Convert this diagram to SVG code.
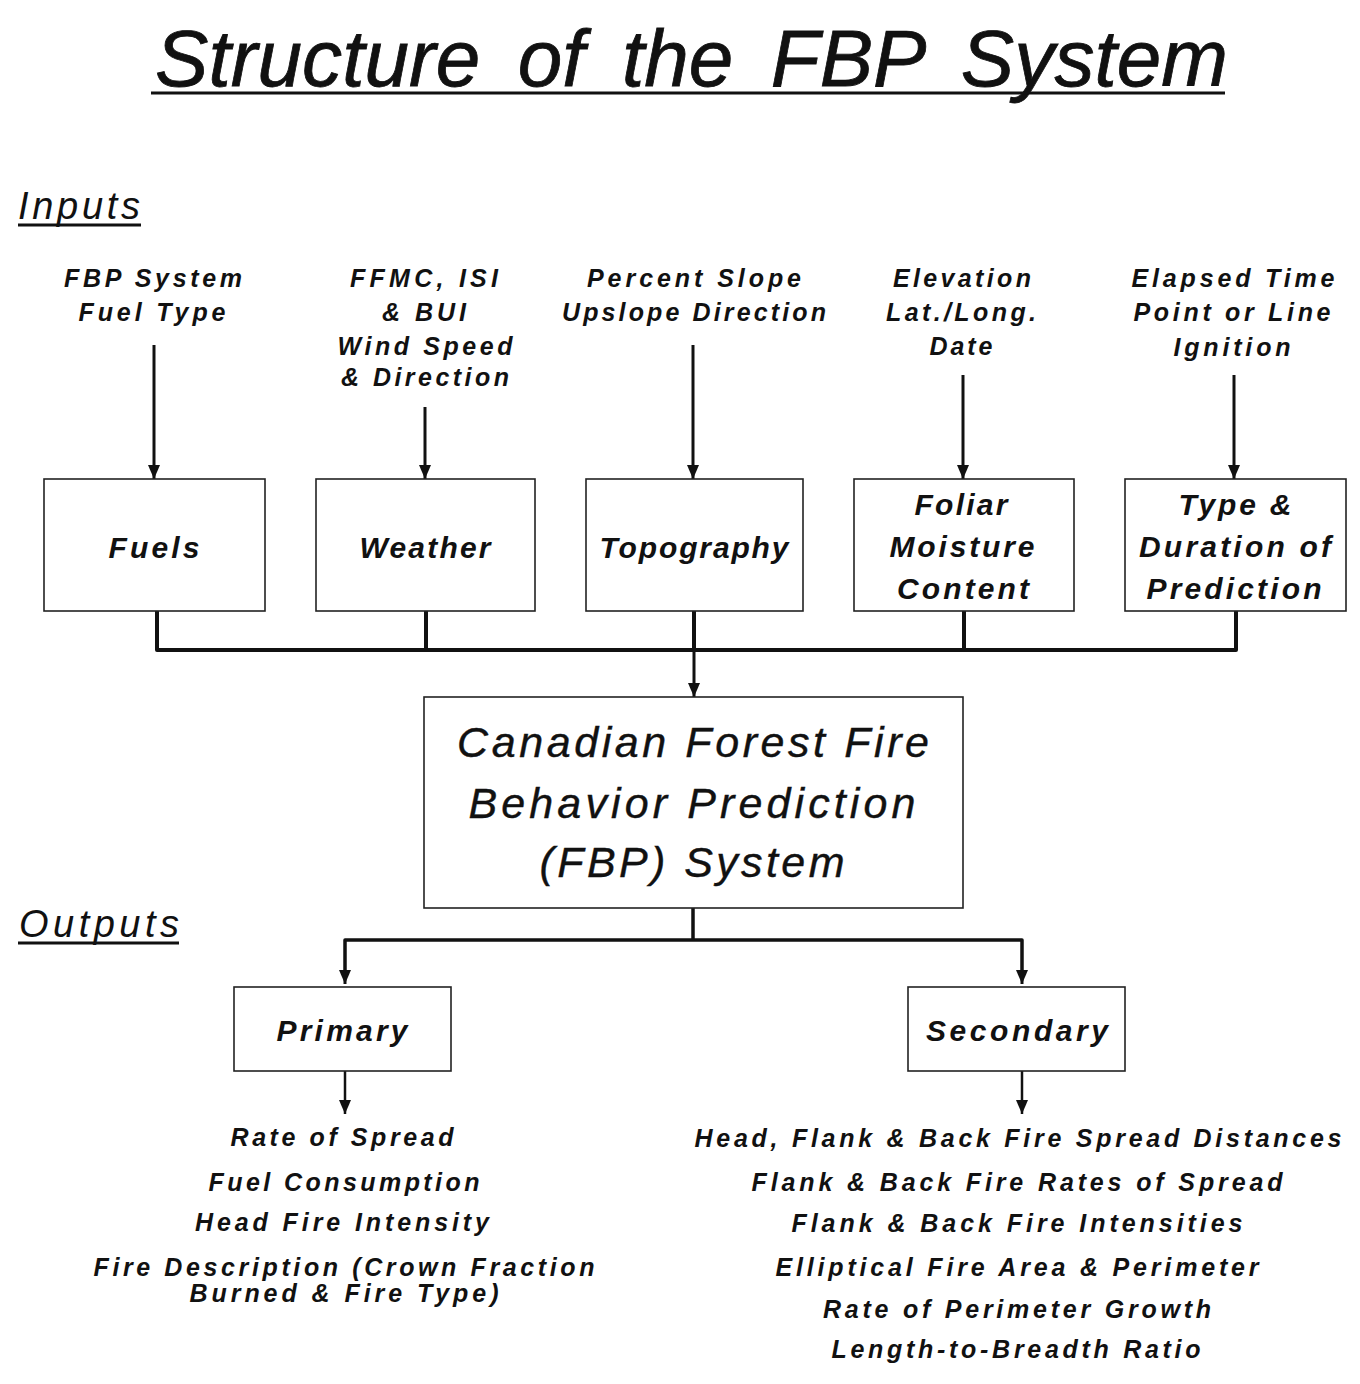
<svg xmlns="http://www.w3.org/2000/svg" width="1360" height="1384" viewBox="0 0 1360 1384">
<defs>
<style>
.t{font-family:"Liberation Sans",Arial,Helvetica,sans-serif;font-style:italic;fill:#111;}
.title{font-size:80px;word-spacing:15px;stroke:#111;stroke-width:0.8px;}
.hdr{font-size:38px;}
.lbl{font-size:25px;font-weight:bold;text-anchor:middle;}
.bx{font-size:30px;font-weight:bold;text-anchor:middle;}
.main{font-size:43px;text-anchor:middle;stroke:#111;stroke-width:0.4px;}
.out{font-size:25px;font-weight:bold;text-anchor:middle;}
.node rect{fill:#fff;stroke:#222;stroke-width:1.6;}
.ul{stroke:#111;stroke-width:3;}
.conn path,.conn line{fill:none;stroke:#111;stroke-linejoin:round;stroke-linecap:butt;}
</style>
<marker id="ah" markerUnits="userSpaceOnUse" markerWidth="12" markerHeight="14" refX="6" refY="14" orient="0" viewBox="0 0 12 14">
<path d="M0,0 L12,0 L6,14 Z" fill="#111"/>
</marker>
</defs>
<rect width="1360" height="1384" fill="#fff"/>

<g id="title">
<text class="t title" x="155" y="86" textLength="1073" lengthAdjust="spacing">Structure of the FBP System</text>
<line class="ul" x1="151" y1="93" x2="1225" y2="93"/>
</g>

<g id="inputs-header">
<text class="t hdr" x="18" y="219" textLength="122" lengthAdjust="spacing">Inputs</text>
<line class="ul" x1="18" y1="225" x2="141" y2="225" stroke-width="2.2"/>
</g>

<g id="input-labels">
<text class="t lbl" x="153" y="287" textLength="178" lengthAdjust="spacing">FBP System</text>
<text class="t lbl" x="152" y="321" textLength="147" lengthAdjust="spacing">Fuel Type</text>
<text class="t lbl" x="424" y="287" textLength="148" lengthAdjust="spacing">FFMC, ISI</text>
<text class="t lbl" x="424" y="321" textLength="84" lengthAdjust="spacing">&amp; BUI</text>
<text class="t lbl" x="425" y="355" textLength="175" lengthAdjust="spacing">Wind Speed</text>
<text class="t lbl" x="425" y="386" textLength="168" lengthAdjust="spacing">&amp; Direction</text>
<text class="t lbl" x="694" y="287" textLength="214" lengthAdjust="spacing">Percent Slope</text>
<text class="t lbl" x="694" y="321" textLength="264" lengthAdjust="spacing">Upslope Direction</text>
<text class="t lbl" x="962" y="287" textLength="138" lengthAdjust="spacing">Elevation</text>
<text class="t lbl" x="961" y="321" textLength="150" lengthAdjust="spacing">Lat./Long.</text>
<text class="t lbl" x="961" y="355" textLength="63" lengthAdjust="spacing">Date</text>
<text class="t lbl" x="1233" y="287" textLength="203" lengthAdjust="spacing">Elapsed Time</text>
<text class="t lbl" x="1232" y="321" textLength="197" lengthAdjust="spacing">Point or Line</text>
<text class="t lbl" x="1232" y="356" textLength="117" lengthAdjust="spacing">Ignition</text>
</g>

<g class="conn" id="connectors">
<line x1="154" y1="345" x2="154" y2="479" stroke-width="3" marker-end="url(#ah)"/>
<line x1="425" y1="407" x2="425" y2="479" stroke-width="3" marker-end="url(#ah)"/>
<line x1="693" y1="345" x2="693" y2="479" stroke-width="3" marker-end="url(#ah)"/>
<line x1="963" y1="375" x2="963" y2="479" stroke-width="3" marker-end="url(#ah)"/>
<line x1="1234" y1="375" x2="1234" y2="479" stroke-width="3" marker-end="url(#ah)"/>
<path d="M157,611 V650 H1236 V611 M426,611 V650 M694,611 V650 M964,611 V650" stroke-width="4"/>
<line x1="694" y1="652" x2="694" y2="697" stroke-width="3" marker-end="url(#ah)"/>
<path d="M693,908 V940" stroke-width="3.5"/>
<path d="M345,972 V940 H1022 V972" stroke-width="3.5"/>
<line x1="345" y1="970" x2="345" y2="984" stroke-width="3" marker-end="url(#ah)"/>
<line x1="1022" y1="970" x2="1022" y2="984" stroke-width="3" marker-end="url(#ah)"/>
<line x1="345" y1="1071" x2="345" y2="1114" stroke-width="2.5" marker-end="url(#ah)"/>
<line x1="1022" y1="1071" x2="1022" y2="1114" stroke-width="2.5" marker-end="url(#ah)"/>
</g>

<g class="node" id="fuels">
<rect x="44" y="479" width="221" height="132"/>
<text class="t bx" x="154" y="558" textLength="91" lengthAdjust="spacing">Fuels</text>
</g>
<g class="node" id="weather">
<rect x="316" y="479" width="219" height="132"/>
<text class="t bx" x="425" y="558" textLength="131" lengthAdjust="spacing">Weather</text>
</g>
<g class="node" id="topography">
<rect x="586" y="479" width="217" height="132"/>
<text class="t bx" x="694" y="558" textLength="189" lengthAdjust="spacing">Topography</text>
</g>
<g class="node" id="foliar">
<rect x="854" y="479" width="220" height="132"/>
<text class="t bx" x="961" y="515" textLength="93" lengthAdjust="spacing">Foliar</text>
<text class="t bx" x="962" y="557" textLength="145" lengthAdjust="spacing">Moisture</text>
<text class="t bx" x="963" y="599" textLength="132" lengthAdjust="spacing">Content</text>
</g>
<g class="node" id="type-duration">
<rect x="1125" y="479" width="221" height="132"/>
<text class="t bx" x="1235" y="515" textLength="113" lengthAdjust="spacing">Type &amp;</text>
<text class="t bx" x="1235" y="557" textLength="192" lengthAdjust="spacing">Duration of</text>
<text class="t bx" x="1234" y="599" textLength="175" lengthAdjust="spacing">Prediction</text>
</g>

<g class="node" id="fbp-system">
<rect x="424" y="697" width="539" height="211"/>
<text class="t main" x="693" y="757" textLength="472" lengthAdjust="spacing">Canadian Forest Fire</text>
<text class="t main" x="692" y="818" textLength="447" lengthAdjust="spacing">Behavior Prediction</text>
<text class="t main" x="692" y="877" textLength="305" lengthAdjust="spacing">(FBP) System</text>
</g>

<g id="outputs-header">
<text class="t hdr" x="19" y="937" textLength="160" lengthAdjust="spacing">Outputs</text>
<line class="ul" x1="18" y1="943" x2="179" y2="943" stroke-width="2.2"/>
</g>

<g class="node" id="primary">
<rect x="234" y="987" width="217" height="84"/>
<text class="t bx" x="342" y="1041" textLength="131" lengthAdjust="spacing">Primary</text>
</g>
<g class="node" id="secondary">
<rect x="908" y="987" width="217" height="84"/>
<text class="t bx" x="1017" y="1041" textLength="182" lengthAdjust="spacing">Secondary</text>
</g>

<g id="primary-outputs">
<text class="t out" x="342" y="1146" textLength="223" lengthAdjust="spacing">Rate of Spread</text>
<text class="t out" x="344" y="1191" textLength="271" lengthAdjust="spacing">Fuel Consumption</text>
<text class="t out" x="342" y="1231" textLength="294" lengthAdjust="spacing">Head Fire Intensity</text>
<text class="t out" x="344" y="1276" textLength="501" lengthAdjust="spacing">Fire Description (Crown Fraction</text>
<text class="t out" x="344" y="1302" textLength="309" lengthAdjust="spacing">Burned &amp; Fire Type)</text>
</g>

<g id="secondary-outputs">
<text class="t out" x="1018" y="1147" textLength="647" lengthAdjust="spacing">Head, Flank &amp; Back Fire Spread Distances</text>
<text class="t out" x="1017" y="1191" textLength="531" lengthAdjust="spacing">Flank &amp; Back Fire Rates of Spread</text>
<text class="t out" x="1017" y="1232" textLength="451" lengthAdjust="spacing">Flank &amp; Back Fire Intensities</text>
<text class="t out" x="1017" y="1276" textLength="483" lengthAdjust="spacing">Elliptical Fire Area &amp; Perimeter</text>
<text class="t out" x="1017" y="1318" textLength="388" lengthAdjust="spacing">Rate of Perimeter Growth</text>
<text class="t out" x="1016" y="1358" textLength="369" lengthAdjust="spacing">Length-to-Breadth Ratio</text>
</g>
</svg>
